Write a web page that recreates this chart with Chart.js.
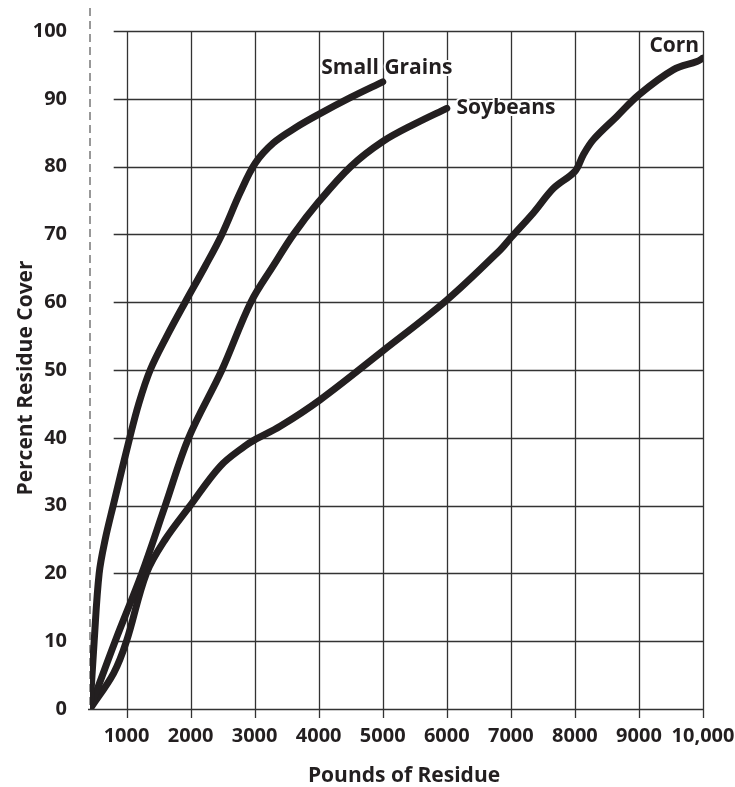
<!DOCTYPE html>
<html>
<head>
<meta charset="utf-8">
<script src="https://cdn.jsdelivr.net/npm/chart.js@4"></script>
<style>
  html, body { margin: 0; padding: 0; background: #fff; }
  #wrap { width: 735px; height: 787px; }
</style>
</head>
<body>
<div id="wrap"><canvas id="residueChart"></canvas></div>
<script>
// Values
const xTicks = [1000, 2000, 3000, 4000, 5000, 6000, 7000, 8000, 9000, 10000];
const xTickLabels = ['1000', '2000', '3000', '4000', '5000', '6000', '7000', '8000', '9000', '10,000'];
const yTicks = [0, 10, 20, 30, 40, 50, 60, 70, 80, 90, 100];

const smallGrainsX = [430, 495, 573, 667, 792, 1050, 1190, 1370, 1630, 1916, 2228, 2489, 2771, 3009, 3294, 3650, 4000, 4500, 5000];
const smallGrainsY = [0, 10, 20, 25, 30, 40, 45, 50, 55, 60, 65.3, 70, 76.1, 80.5, 83.5, 85.8, 87.7, 90.2, 92.5];

const soybeansX = [430, 823, 1239, 1604, 1970, 2489, 2941, 3300, 3607, 4000, 4500, 5000, 5500, 6000];
const soybeansY = [0, 10, 20, 30, 40, 50, 60, 65.5, 70, 74.8, 80, 83.7, 86.3, 88.6];

const cornX = [430, 800, 1000, 1310, 1604, 1994, 2462, 2850, 3000, 3399, 4022, 5000, 6000, 6834, 7000, 7354, 7666, 8000, 8134, 8290, 8655, 9000, 9540, 9905, 10000];
const cornY = [0, 5.3, 10, 20, 25, 30, 35.8, 38.8, 39.7, 41.7, 45.6, 52.8, 60.3, 67.7, 69.5, 73.2, 76.8, 79.3, 81.8, 84, 87.4, 90.6, 94.3, 95.5, 96];

const curveLabels = [
  { text: 'Small Grains', x: 4040, y: 94.6, align: 'left' },
  { text: 'Soybeans', x: 6150, y: 88.7, align: 'left' },
  { text: 'Corn', x: 9940, y: 97.8, align: 'right' }
];

const ink = '#231f20';
const font = '"Open Sans", "Liberation Sans", sans-serif';

function toPoints(xs, ys) {
  return xs.map((x, i) => ({ x: x, y: ys[i] }));
}

function makeSeries(label, xs, ys) {
  return {
    label: label,
    data: toPoints(xs, ys),
    borderColor: ink,
    borderWidth: 7,
    pointRadius: 0,
    fill: false,
    tension: 0.35,
    borderCapStyle: 'round',
    borderJoinStyle: 'round'
  };
}

// grid, dashed line, titles and curve names
const decor = {
  id: 'decor',
  beforeDatasetsDraw(chart) {
    const ctx = chart.ctx;
    const xs = chart.scales.x;
    const ys = chart.scales.y;
    const area = chart.chartArea;
    ctx.save();
    ctx.strokeStyle = '#333';
    ctx.lineWidth = 1.3;
    const gridLeft = xs.getPixelForValue(800);
    yTicks.forEach(v => {
      const py = Math.round(ys.getPixelForValue(v)) + 0.5;
      ctx.beginPath();
      ctx.moveTo(v === 0 ? area.left - 2 : gridLeft, py);
      ctx.lineTo(xs.getPixelForValue(10000), py);
      ctx.stroke();
    });
    xTicks.forEach(v => {
      const px = Math.round(xs.getPixelForValue(v)) + 0.5;
      ctx.beginPath();
      ctx.moveTo(px, ys.getPixelForValue(100));
      ctx.lineTo(px, ys.getPixelForValue(0) + 9);
      ctx.stroke();
    });
    // dashed line at the left
    ctx.strokeStyle = '#777';
    ctx.lineWidth = 1.5;
    ctx.setLineDash([8, 5]);
    ctx.beginPath();
    ctx.moveTo(area.left, 8);
    ctx.lineTo(area.left, area.bottom);
    ctx.stroke();
    ctx.setLineDash([]);
    ctx.restore();
  },
  afterDatasetsDraw(chart) {
    const ctx = chart.ctx;
    const xs = chart.scales.x;
    const ys = chart.scales.y;
    ctx.save();
    ctx.font = 'bold 21px ' + font;
    ctx.textBaseline = 'middle';
    curveLabels.forEach(l => {
      ctx.textAlign = l.align;
      const px = xs.getPixelForValue(l.x);
      const py = ys.getPixelForValue(l.y);
      ctx.lineWidth = 4;
      ctx.strokeStyle = '#fff';
      ctx.strokeText(l.text, px, py);
      ctx.fillStyle = ink;
      ctx.fillText(l.text, px, py);
    });
    // axis titles
    ctx.font = 'bold 21px ' + font;
    ctx.fillStyle = ink;
    ctx.textAlign = 'center';
    ctx.textBaseline = 'alphabetic';
    ctx.fillText('Pounds of Residue', 404, 782);
    ctx.translate(32, 378);
    ctx.rotate(-Math.PI / 2);
    ctx.fillText('Percent Residue Cover', 0, 0);
    ctx.restore();
  }
};

new Chart(document.getElementById('residueChart'), {
  type: 'line',
  data: {
    datasets: [
      makeSeries('Small Grains', smallGrainsX, smallGrainsY),
      makeSeries('Soybeans', soybeansX, soybeansY),
      makeSeries('Corn', cornX, cornY)
    ]
  },
  options: {
    responsive: true,
    maintainAspectRatio: false,
    animation: false,
    layout: { padding: { top: 31, right: 32, bottom: 0, left: 0 } },
    plugins: {
      legend: { display: false },
      tooltip: { enabled: false }
    },
    scales: {
      x: {
        type: 'linear',
        min: 430,
        max: 10000,
        grid: { display: false },
        border: { display: false },
        afterBuildTicks: s => { s.ticks = xTicks.map(v => ({ value: v })); },
        afterFit: s => { s.height = 78; s.paddingLeft = 0; s.paddingRight = 0; },
        ticks: {
          padding: 7,
          maxRotation: 0,
          autoSkip: false,
          color: ink,
          font: { family: font, size: 20, weight: 'bold' },
          callback: (v) => xTickLabels[xTicks.indexOf(v)]
        }
      },
      y: {
        min: 0,
        max: 100,
        grid: { display: false },
        border: { display: false },
        afterBuildTicks: s => { s.ticks = yTicks.map(v => ({ value: v })); },
        afterFit: s => { s.width = 90; s.paddingTop = 0; s.paddingBottom = 0; },
        ticks: {
          padding: 15,
          color: ink,
          font: { family: font, size: 20, weight: 'bold' }
        }
      }
    }
  },
  plugins: [decor]
});
</script>
</body>
</html>
